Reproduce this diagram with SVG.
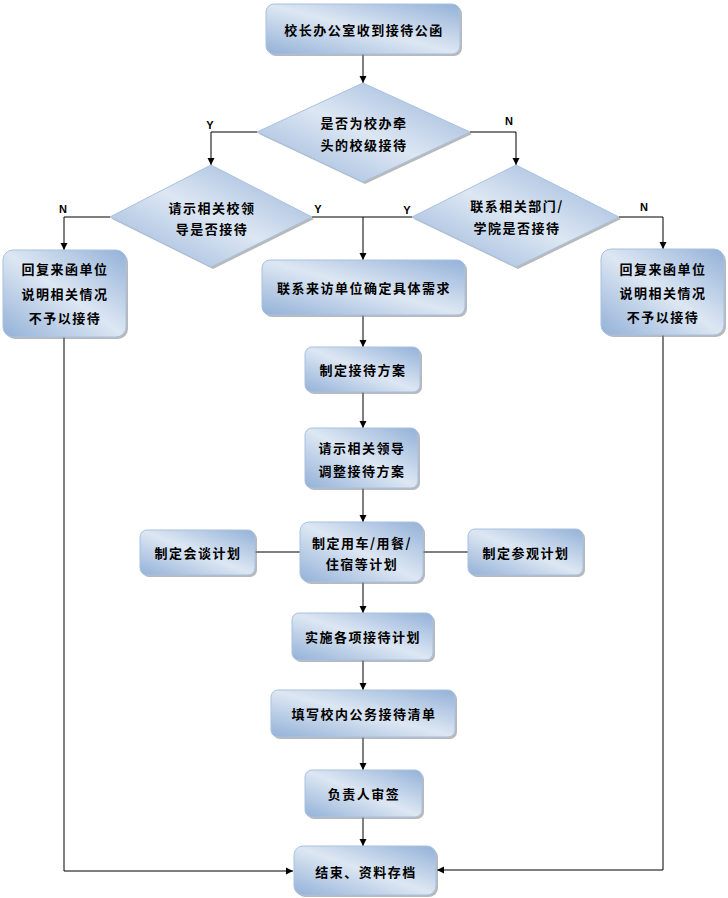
<svg xmlns="http://www.w3.org/2000/svg" width="728" height="898" viewBox="0 0 728 898">
<style>
.box{fill:url(#g);stroke:#a9c1e0;stroke-width:1}
.sh{fill:#7f7f7f;opacity:0.55}
.t{font-family:"Noto Sans CJK SC","Noto Sans",sans-serif;font-size:13px;font-weight:bold;fill:#000;text-anchor:middle;dominant-baseline:central;letter-spacing:1.5px}
.yn{font-family:"Liberation Sans",Arial,sans-serif;font-size:11px;font-weight:bold;fill:#000;text-anchor:middle;dominant-baseline:central}
.ln{fill:none;stroke:#000;stroke-width:1}
.arr{marker-end:url(#a)}
</style>
<defs>
<linearGradient id="g" x1="0" y1="1" x2="1" y2="0">
<stop offset="0" stop-color="#93b1d8"/>
<stop offset="0.5" stop-color="#dde7f3"/>
<stop offset="1" stop-color="#93b1d8"/>
</linearGradient>
<marker id="a" markerWidth="8" markerHeight="8" refX="7" refY="4" orient="auto" markerUnits="userSpaceOnUse">
<path d="M0,0.5 L7,4 L0,7.5 Z" fill="#000"/>
</marker>
</defs>

<g id="connectors">
<path class="ln arr" d="M363,54 V83"/>
<path class="ln arr" d="M257,132 H211 V165"/>
<path class="ln arr" d="M470,132 H516 V165"/>
<path class="ln arr" d="M110,217 H64 V250"/>
<path class="ln arr" d="M619,217 H663 V249"/>
<path class="ln" d="M312,217 H412"/>
<path class="ln arr" d="M363,217 V260"/>
<path class="ln arr" d="M363,315 V347"/>
<path class="ln arr" d="M363,392 V428"/>
<path class="ln arr" d="M363,488 V522"/>
<path class="ln" d="M255,552 H300"/>
<path class="ln" d="M423,552 H468"/>
<path class="ln arr" d="M363,582 V613"/>
<path class="ln arr" d="M363,660 V690"/>
<path class="ln arr" d="M363,737 V770"/>
<path class="ln arr" d="M363,817 V846"/>
<path class="ln arr" d="M64,337 V871 H293"/>
<path class="ln arr" d="M663,335 V870 H437"/>
<text class="yn" x="210" y="125">Y</text>
<text class="yn" x="509" y="121">N</text>
<text class="yn" x="63" y="209">N</text>
<text class="yn" x="318" y="209">Y</text>
<text class="yn" x="407" y="210">Y</text>
<text class="yn" x="644" y="207">N</text>
</g>

<g id="n1">
<rect class="sh" x="268" y="6" width="194" height="50" rx="8"/>
<rect class="box" x="266" y="4" width="194" height="50" rx="8"/>
<text class="t" x="364" y="29">校长办公室收到接待公函</text>
</g>

<g id="d1">
<polygon class="sh" points="365,85 472,134 365,184 259,134"/>
<polygon class="box" points="363,83 470,132 363,182 257,132"/>
<text class="t" x="364" y="122">是否为校办牵</text>
<text class="t" x="364" y="144">头的校级接待</text>
</g>

<g id="d2">
<polygon class="sh" points="213,167 314,219 213,269 112,219"/>
<polygon class="box" points="211,165 312,217 211,267 110,217"/>
<text class="t" x="212" y="207">请示相关校领</text>
<text class="t" x="212" y="228">导是否接待</text>
</g>

<g id="d3">
<polygon class="sh" points="518,167 621,219 518,269 414,219"/>
<polygon class="box" points="516,165 619,217 516,267 412,217"/>
<text class="t" x="517" y="205">联系相关部门/</text>
<text class="t" x="517" y="227">学院是否接待</text>
</g>

<g id="nleft">
<rect class="sh" x="5" y="252" width="123" height="87" rx="10"/>
<rect class="box" x="3" y="250" width="123" height="87" rx="10"/>
<text class="t" x="65" y="268">回复来函单位</text>
<text class="t" x="65" y="293">说明相关情况</text>
<text class="t" x="65" y="317">不予以接待</text>
</g>

<g id="nright">
<rect class="sh" x="603" y="251" width="123" height="86" rx="10"/>
<rect class="box" x="601" y="249" width="123" height="86" rx="10"/>
<text class="t" x="663" y="268">回复来函单位</text>
<text class="t" x="663" y="292">说明相关情况</text>
<text class="t" x="663" y="316">不予以接待</text>
</g>

<g id="n2">
<rect class="sh" x="264" y="262" width="203" height="55" rx="8"/>
<rect class="box" x="262" y="260" width="203" height="55" rx="8"/>
<text class="t" x="364" y="287">联系来访单位确定具体需求</text>
</g>

<g id="n3">
<rect class="sh" x="307" y="349" width="115" height="45" rx="7"/>
<rect class="box" x="305" y="347" width="115" height="45" rx="7"/>
<text class="t" x="363" y="369">制定接待方案</text>
</g>

<g id="n4">
<rect class="sh" x="307" y="430" width="113" height="60" rx="7"/>
<rect class="box" x="305" y="428" width="113" height="60" rx="7"/>
<text class="t" x="362" y="447">请示相关领导</text>
<text class="t" x="362" y="470">调整接待方案</text>
</g>

<g id="n5">
<rect class="sh" x="302" y="524" width="123" height="60" rx="9"/>
<rect class="box" x="300" y="522" width="123" height="60" rx="9"/>
<text class="t" x="362" y="542">制定用车/用餐/</text>
<text class="t" x="362" y="563">住宿等计划</text>
</g>

<g id="n5l">
<rect class="sh" x="142" y="532" width="115" height="45" rx="7"/>
<rect class="box" x="140" y="530" width="115" height="45" rx="7"/>
<text class="t" x="198" y="552">制定会谈计划</text>
</g>

<g id="n5r">
<rect class="sh" x="470" y="531" width="115" height="46" rx="7"/>
<rect class="box" x="468" y="529" width="115" height="46" rx="7"/>
<text class="t" x="526" y="552">制定参观计划</text>
</g>

<g id="n6">
<rect class="sh" x="294" y="615" width="141" height="47" rx="7"/>
<rect class="box" x="292" y="613" width="141" height="47" rx="7"/>
<text class="t" x="363" y="636">实施各项接待计划</text>
</g>

<g id="n7">
<rect class="sh" x="273" y="692" width="184" height="47" rx="7"/>
<rect class="box" x="271" y="690" width="184" height="47" rx="7"/>
<text class="t" x="364" y="713">填写校内公务接待清单</text>
</g>

<g id="n8">
<rect class="sh" x="307" y="772" width="117" height="47" rx="7"/>
<rect class="box" x="305" y="770" width="117" height="47" rx="7"/>
<text class="t" x="364" y="793">负责人审签</text>
</g>

<g id="n9">
<rect class="sh" x="296" y="848" width="142" height="49" rx="9"/>
<rect class="box" x="294" y="846" width="142" height="49" rx="9"/>
<text class="t" x="366" y="871">结束、资料存档</text>
</g>
</svg>
